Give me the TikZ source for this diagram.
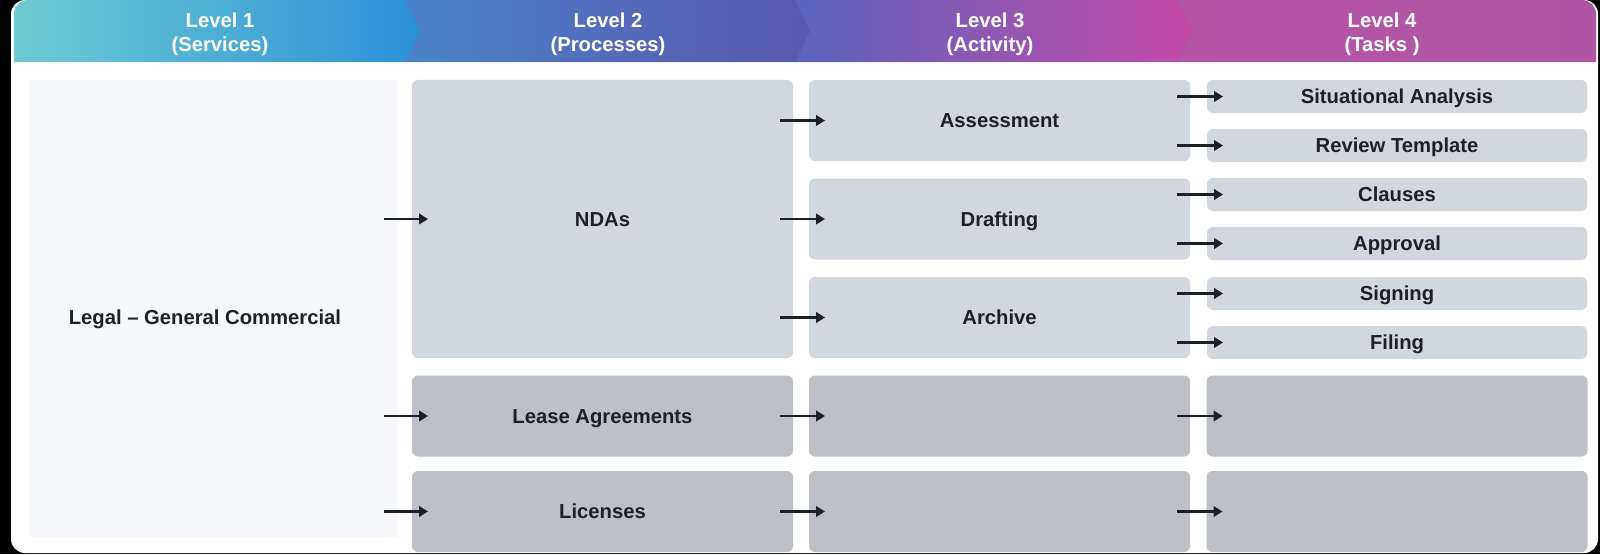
\documentclass[tikz,border=0pt]{standalone}
\usepackage{fontspec}
\setmainfont{Liberation Sans}
\usepackage{xcolor}
\usepackage{tikz}
\usetikzlibrary{
    positioning,
    arrows.meta,
    calc,
}
\definecolor{ink}{HTML}{1D2029}
\definecolor{boxlight}{HTML}{D2D7DE}
\definecolor{boxdark}{HTML}{BEC0C8}
\definecolor{panelbg}{HTML}{F6F7FB}
\definecolor{hdA}{HTML}{6FCAD3}
\definecolor{hdB}{HTML}{2B91D7}
\definecolor{hdC}{HTML}{4A83C8}
\definecolor{hdD}{HTML}{5A57AE}
\definecolor{hdE}{HTML}{5C64BE}
\definecolor{hdF}{HTML}{C44AA8}
\definecolor{hdG}{HTML}{B654A6}
\definecolor{hdH}{HTML}{B055A5}
\newcommand{\cellfont}{\fontsize{14.4}{17}\selectfont\bfseries}
\tikzset{
    % Basic box styles
    cell/.style={rectangle, rounded corners=1.5mm, fill=boxlight, inner sep=0pt, outer sep=0pt,
                 minimum width=95.25mm, text=ink, font=\cellfont, align=center,
                 text height=10.3pt, text depth=0pt},
    empty cell/.style={cell, fill=boxdark},
    % Arrow styles
    arrow/.style={-{Triangle[length=2.2mm, width=2.6mm]}, line width=1.5pt, ink},
    % Header styles
    head text/.style={text=white, font=\cellfont, align=center},
}

\begin{document}
\begin{tikzpicture}[
    x=0.25mm, y=-0.25mm,
    tall/.style={minimum height=69.5mm},
    row/.style={minimum height=20.25mm},
    task/.style={minimum height=8.25mm, minimum width=95mm},
]
    \useasboundingbox (0,0) rectangle (1600,554);

    % Card
    \fill[black] (0,0) rectangle (1600,554);
    \fill[white, rounded corners=3.5mm] (11,0) rectangle (1598,553);

    % Header bar
    \shade[left color=hdG, right color=hdH] (1177,0) [rounded corners=3.5mm] -- (1596,0) [sharp corners] -- (1596,62) -- (1177,62) -- cycle;
    \shade[left color=hdE, right color=hdF] (795,0) -- (1177,0) -- (1192,31) -- (1177,62) -- (795,62) -- cycle;
    \shade[left color=hdC, right color=hdD] (405,0) -- (795,0) -- (810,31) -- (795,62) -- (405,62) -- cycle;
    \shade[left color=hdA, right color=hdB] (14,62) [rounded corners=3.5mm] -- (14,0) [sharp corners] -- (405,0) -- (420,31) -- (405,62) -- cycle;

    \node[head text] (lvl1) at (220,34) {Level 1\\(Services)};
    \node[head text] (lvl2) at (608,34) {Level 2\\(Processes)};
    \node[head text] (lvl3) at (990,34) {Level 3\\(Activity)};
    \node[head text] (lvl4) at (1382,34) {Level 4\\(Tasks )};

    % Level 1
    \node[rectangle, fill=panelbg, minimum width=91.75mm, minimum height=114.25mm, inner sep=0pt] (services) at (213.5,308.5) {};
    \node[text=ink, font=\cellfont, text height=10.3pt, text depth=0pt] (legal) at (205,317) {Legal – General Commercial};

    % Level 2
    \node[cell, tall] (ndas) at (602.5,219) {NDAs};
    \node[empty cell, row] (lease) at (602.5,416) {Lease Agreements};
    \node[empty cell, row] (licenses) at (602.5,511.5) {Licenses};

    % Level 3
    \node[cell, row] (assess) at (999.5,120.5) {Assessment};
    \node[cell, row] (draft) at (999.5,219) {Drafting};
    \node[cell, row] (archive) at (999.5,317.5) {Archive};
    \node[empty cell, row] (lease act) at (999.5,416) {};
    \node[empty cell, row] (lic act) at (999.5,511.5) {};

    % Level 4
    \node[cell, task] (situation) at (1397,96.5) {Situational Analysis};
    \node[cell, task] (review) at (1397,145.5) {Review Template};
    \node[cell, task] (clauses) at (1397,194.5) {Clauses};
    \node[cell, task] (approval) at (1397,243.5) {Approval};
    \node[cell, task] (signing) at (1397,293.5) {Signing};
    \node[cell, task] (filing) at (1397,342.5) {Filing};
    \node[empty cell, row] (lease task) at (1397,416) {};
    \node[empty cell, row] (lic task) at (1397,511.5) {};

    % Arrows
    \draw[arrow] ($(services.east |- ndas)+(-3.25mm,0)$) -- ([xshift=4mm]ndas.west);
    \draw[arrow] ($(services.east |- lease)+(-3.25mm,0)$) -- ([xshift=4mm]lease.west);
    \draw[arrow] ($(services.east |- licenses)+(-3.25mm,0)$) -- ([xshift=4mm]licenses.west);

    \draw[arrow] ($(ndas.east |- assess)+(-3.25mm,0)$) -- ([xshift=4mm]assess.west);
    \draw[arrow] ($(ndas.east |- draft)+(-3.25mm,0)$) -- ([xshift=4mm]draft.west);
    \draw[arrow] ($(ndas.east |- archive)+(-3.25mm,0)$) -- ([xshift=4mm]archive.west);
    \draw[arrow] ([xshift=-3.25mm]lease.east) -- ([xshift=4mm]lease act.west);
    \draw[arrow] ([xshift=-3.25mm]licenses.east) -- ([xshift=4mm]lic act.west);

    \draw[arrow] ($(assess.east |- situation)+(-3.25mm,0)$) -- ([xshift=4mm]situation.west);
    \draw[arrow] ($(assess.east |- review)+(-3.25mm,0)$) -- ([xshift=4mm]review.west);
    \draw[arrow] ($(draft.east |- clauses)+(-3.25mm,0)$) -- ([xshift=4mm]clauses.west);
    \draw[arrow] ($(draft.east |- approval)+(-3.25mm,0)$) -- ([xshift=4mm]approval.west);
    \draw[arrow] ($(archive.east |- signing)+(-3.25mm,0)$) -- ([xshift=4mm]signing.west);
    \draw[arrow] ($(archive.east |- filing)+(-3.25mm,0)$) -- ([xshift=4mm]filing.west);
    \draw[arrow] ([xshift=-3.25mm]lease act.east) -- ([xshift=4mm]lease task.west);
    \draw[arrow] ([xshift=-3.25mm]lic act.east) -- ([xshift=4mm]lic task.west);
\end{tikzpicture}
\end{document}
